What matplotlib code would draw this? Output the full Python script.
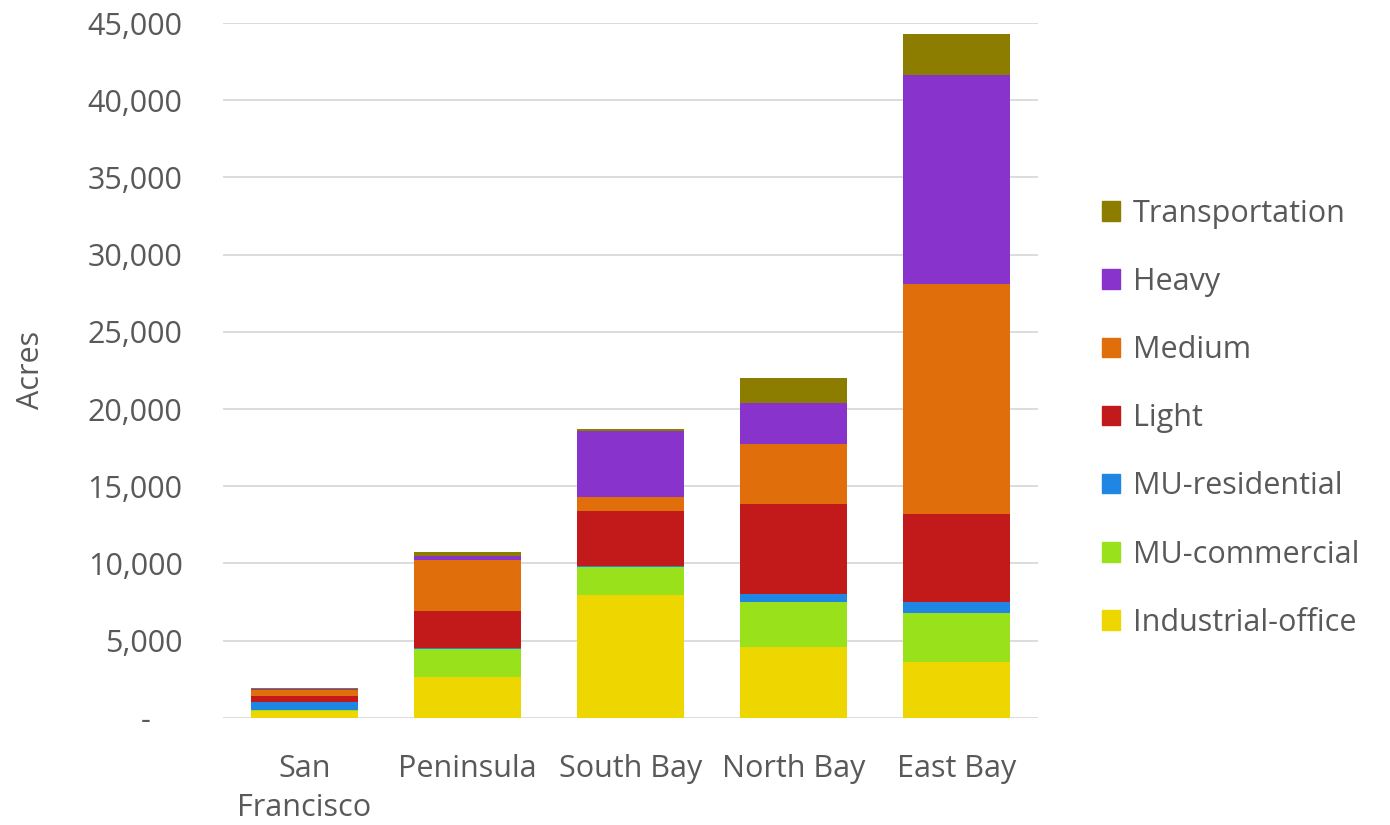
import matplotlib.pyplot as plt
import matplotlib.ticker as mticker
from matplotlib.patches import Patch

# Industrial land by sub-region (acres), stacked by land-use type
regions = ['San\nFrancisco', 'Peninsula', 'South Bay', 'North Bay', 'East Bay']
industrial_office = [450, 2620, 7920, 4610, 3640]
mu_commercial = [50, 1840, 1840, 2920, 3150]
mu_residential = [500, 60, 50, 500, 740]
light = [420, 2380, 3570, 5840, 5670]
medium = [350, 3350, 935, 3890, 14900]
heavy = [80, 250, 4260, 2600, 13550]
transportation = [100, 250, 150, 1620, 2650]

series = [
    ('Industrial-office', industrial_office, '#EED700'),
    ('MU-commercial', mu_commercial, '#99E21B'),
    ('MU-residential', mu_residential, '#1F87E3'),
    ('Light', light, '#C21A1A'),
    ('Medium', medium, '#E06E0A'),
    ('Heavy', heavy, '#8833CC'),
    ('Transportation', transportation, '#8C7C00'),
]

plt.rcParams['font.family'] = ['Open Sans', 'DejaVu Sans']
grey = '#595959'

fig = plt.figure(figsize=(13.9, 8.25), dpi=100)
ax = fig.add_axes([0.1604, 0.130, 0.5864, 0.842])

x = list(range(len(regions)))
bottom = [0] * len(regions)
for name, vals, col in series:
    ax.bar(x, vals, bottom=bottom, width=0.655, color=col, label=name, zorder=3)
    bottom = [b + v for b, v in zip(bottom, vals)]

ax.set_xlim(-0.5, 4.5)
ax.set_ylim(0, 45000)
ax.yaxis.set_major_locator(mticker.MultipleLocator(5000))
ax.yaxis.set_major_formatter(
    mticker.FuncFormatter(lambda v, p: '-    ' if v == 0 else f'{v:,.0f}'))
ax.grid(axis='y', color='#D9D9D9', linewidth=1.3, zorder=0)
for s in ax.spines.values():
    s.set_visible(False)
ax.tick_params(axis='both', length=0, labelsize=22, labelcolor=grey)
ax.tick_params(axis='y', pad=29)
ax.tick_params(axis='x', pad=26)
ax.set_xticks(x)
ax.set_xticklabels(regions, linespacing=1.4)
ax.set_ylabel('Acres', fontsize=22, color=grey, labelpad=30)

handles = [Patch(color=col, label=name) for name, vals, col in series][::-1]
fig.legend(handles=handles, loc='center left', bbox_to_anchor=(0.773, 0.493),
           frameon=False, fontsize=22, labelcolor=grey, handlelength=0.6,
           handleheight=0.6, handletextpad=0.4, labelspacing=1.25)

fig.savefig('out.png', dpi=100)
